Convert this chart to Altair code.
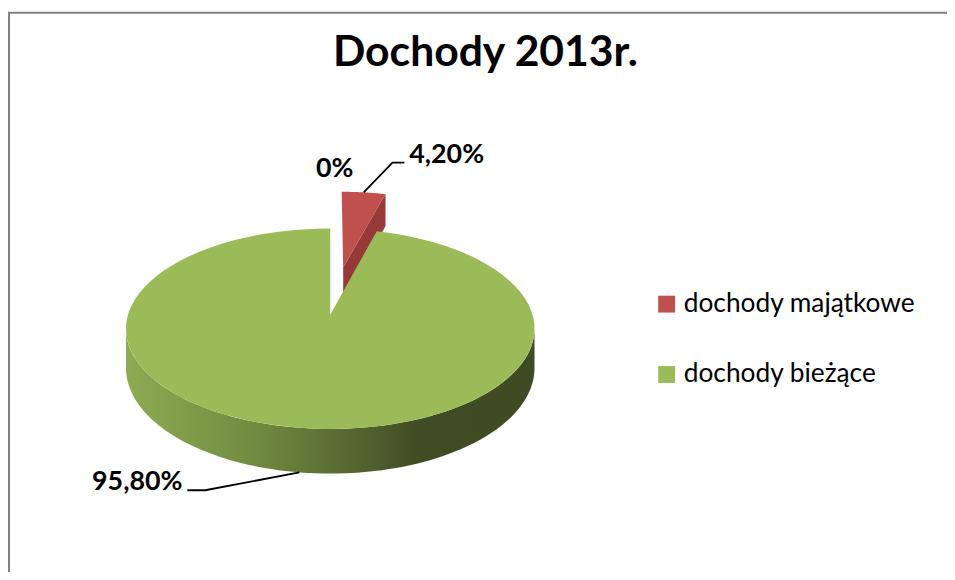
import altair as alt
import pandas as pd

# ---- data ----
CATEGORIES = ["pozostałe", "dochody majątkowe", "dochody bieżące"]
SHARES = [0.0, 4.2, 95.8]
LABELS = ["0%", "4,20%", "95,80%"]
LEGEND_CATS = ["dochody majątkowe", "dochody bieżące"]
COLORS = ["#C0504D", "#9BBB59"]
DARK_COLORS = ["#953A38", "#4F6228"]
TITLE = "Dochody 2013r."

df = pd.DataFrame({"category": CATEGORIES, "value": SHARES,
                   "label": LABELS, "idx": list(range(len(CATEGORIES)))})

# ---- layout / geometry constants (pie units: 1 = horizontal radius) ----
W, H, PAD_TOP = 939, 484, 80
U = 204.0                # pixels per pie unit
CX, CY = 325.0, 227.0    # pie centre (apex) inside the view, px
TILT = 99.1 / U          # vertical squash of the top face
DEPTH = 38.8 / U         # thickness of the pie
K = 0.139                # perspective strength
N = 90
EXPLODE = "(datum.category === 'dochody majątkowe' ? 0.52 : 0)"

XS = alt.Scale(domain=[-CX / U, (W - CX) / U], nice=False, zero=False)
YS = alt.Scale(domain=[-(H - CY) / U, CY / U], nice=False, zero=False)


def proj(chart, X, Z, bottom="0"):
    """project plane point (X, Z) (+ optional depth) with perspective"""
    return (chart.transform_calculate(X_=X)
            .transform_calculate(Z_=Z)
            .transform_calculate(s_=f"1/(1 + {K}*datum.Z_)")
            .transform_calculate(px="datum.X_*datum.s_")
            .transform_calculate(py=f"{TILT}*datum.Z_*datum.s_ - ({bottom} ? {DEPTH}*datum.s_ : 0)"))


def base():
    return (alt.Chart(df)
            .transform_joinaggregate(total="sum(value)")
            .transform_window(cum="sum(value)", sort=[alt.SortField("idx")], frame=[None, 0])
            .transform_calculate(t0="2*PI*(datum.cum - datum.value)/datum.total")
            .transform_calculate(t1="2*PI*datum.cum/datum.total")
            .transform_calculate(mid="(datum.t0 + datum.t1)/2")
            .transform_calculate(expl=EXPLODE)
            .transform_calculate(ex="datum.expl*sin(datum.mid)")
            .transform_calculate(ez="datum.expl*cos(datum.mid)"))


def enc(ch):
    return ch.encode(x=alt.X("px:Q", scale=XS, axis=None),
                     y=alt.Y("py:Q", scale=YS, axis=None),
                     order=alt.Order("k:Q"),
                     detail="category:N")


# top faces
def top_faces(filt):
    c = (base().transform_filter("datum.value > 0").transform_filter(filt)
         .transform_calculate(k=f"sequence(-1, {N + 1})")
         .transform_flatten(["k"])
         .transform_calculate(t=f"datum.t0 + (datum.t1 - datum.t0) * max(datum.k, 0) / {N}"))
    c = proj(c, "datum.ex + (datum.k < 0 ? 0 : sin(datum.t))",
             "datum.ez + (datum.k < 0 ? 0 : cos(datum.t))").mark_line(strokeWidth=0)
    return enc(c).encode(fill=alt.Fill("category:N", scale=alt.Scale(domain=LEGEND_CATS, range=COLORS), legend=None))


tops_back = top_faces("datum.expl > 0")
tops_front = top_faces("datum.expl == 0")

# visible side band (front part of the rim, between the silhouette points)
side = (base().transform_filter("datum.value > 0")
        .transform_calculate(a=f"max(datum.t0, acos(-{K}))", b=f"min(datum.t1, 2*PI - acos(-{K}))")
        .transform_filter("datum.b > datum.a")
        .transform_calculate(k=f"sequence(0, {2 * N + 2})")
        .transform_flatten(["k"])
        .transform_calculate(u=f"datum.k <= {N} ? datum.k : {2 * N + 1} - datum.k")
        .transform_calculate(t=f"datum.a + (datum.b - datum.a) * datum.u / {N}"))
side = proj(side, "datum.ex + sin(datum.t)", "datum.ez + cos(datum.t)", f"datum.k > {N}").mark_line(
    strokeWidth=0, fill={
        "gradient": "linear", "x1": 0, "y1": 0, "x2": 1, "y2": 0,
        "stops": [{"offset": 0, "color": "#8DAB52"},
                  {"offset": 0.3, "color": "#728D41"},
                  {"offset": 0.5, "color": "#5C6F35"},
                  {"offset": 0.72, "color": "#3F4C24"},
                  {"offset": 1, "color": "#3F4B23"}]})
side = enc(side)

# visible cut face at the end radius of a slice
cut = (base().transform_filter("datum.value > 0")
       .transform_filter("sin(datum.t1) > 0.000001")
       .transform_calculate(k="sequence(0, 4)")
       .transform_flatten(["k"])
       .transform_calculate(rim="(datum.k == 1 || datum.k == 2) ? 1 : 0"))
cut = proj(cut, "datum.ex + datum.rim*sin(datum.t1)", "datum.ez + datum.rim*cos(datum.t1)",
           "datum.k >= 2").mark_line(strokeWidth=0)
cut = enc(cut).encode(fill=alt.Fill("category:N", scale=alt.Scale(domain=LEGEND_CATS, range=DARK_COLORS), legend=None))


# label anchors (outer visible point of each slice at its mid angle)
def anchored():
    c = (base().transform_filter("datum.value > 0")
         .transform_calculate(sgn="sin(datum.mid) > 0 ? 1 : -1"))
    c = proj(c, "datum.ex + sin(datum.mid)", "datum.ez + cos(datum.mid)", "cos(datum.mid) < 0")
    return (c.transform_calculate(ax="datum.px", ay="datum.py")
            .transform_calculate(elx=f"datum.ax + (datum.sgn > 0 ? 29 : -95)/{U}")
            .transform_calculate(ely=f"datum.ay + (datum.sgn > 0 ? 30 : -18)/{U}")
            .transform_calculate(enx=f"datum.elx + (datum.sgn > 0 ? 12 : -18)/{U}"))


leaders = (anchored()
           .transform_calculate(k="sequence(0, 3)")
           .transform_flatten(["k"])
           .transform_calculate(px="datum.k == 0 ? datum.ax : (datum.k == 1 ? datum.elx : datum.enx)")
           .transform_calculate(py="datum.k == 0 ? datum.ay : datum.ely")
           .mark_line(color="black", strokeWidth=1.8))
leaders = enc(leaders)

TXT = dict(font="Lato", fontSize=27, fontWeight="bold", color="black", baseline="alphabetic")
XY = dict(x=alt.X("lx:Q", scale=XS, axis=None), y=alt.Y("ly:Q", scale=YS, axis=None), text="label:N")
lab_r = (anchored().transform_filter("datum.sgn > 0")
         .transform_calculate(lx=f"datum.enx + 5/{U}", ly="datum.ely")
         .mark_text(align="left", **TXT).encode(**XY))
lab_l = (anchored().transform_filter("datum.sgn < 0")
         .transform_calculate(lx=f"datum.enx - 5/{U}", ly="datum.ely")
         .mark_text(align="right", **TXT).encode(**XY))
lab_0 = proj(base().transform_filter("datum.value == 0"),
             "datum.ex + sin(datum.mid)", "datum.ez + cos(datum.mid)")
lab_0 = (lab_0.transform_calculate(lx=f"datum.px + 4.5/{U}", ly=f"datum.py + 52/{U}")
         .mark_text(align="center", **TXT).encode(**XY))

# legend carrier
legend_layer = (alt.Chart(df).transform_filter(alt.FieldOneOfPredicate(field="category", oneOf=LEGEND_CATS))
                .mark_square(opacity=0)
                .encode(color=alt.Color("category:N",
                                        scale=alt.Scale(domain=LEGEND_CATS, range=COLORS),
                                        sort=LEGEND_CATS,
                                        legend=alt.Legend(title=None, orient="none", legendX=651, legendY=203,
                                                          symbolType="square", symbolSize=289, symbolOpacity=1,
                                                          symbolStrokeWidth=0, labelFont="Lato", labelFontSize=26.5,
                                                          labelColor="black", labelOffset=4, rowPadding=44,
                                                          padding=0, labelLimit=400))))

frame = alt.Chart(alt.Data(values=[{"a": 1}]))
frame_top = frame.mark_rule(color="#808080", strokeWidth=2).encode(
    x=alt.value(-2), x2=alt.value(W + 10), y=alt.value(-PAD_TOP + 2.5))
frame_left = frame.mark_rule(color="#808080", strokeWidth=2).encode(
    x=alt.value(1), y=alt.value(-PAD_TOP + 2.5), y2=alt.value(H + 10))

chart = (alt.layer(cut, tops_back, side, tops_front, leaders, lab_r, lab_l, lab_0,
                   legend_layer, frame_top, frame_left)
         .resolve_scale(fill="independent")
         .properties(width=W, height=H,
                     autosize=alt.AutoSizeParams(type="none"),
                     padding={"left": 0, "top": PAD_TOP, "right": 8, "bottom": 0},
                     title=alt.Title(TITLE, font="Lato", fontSize=43, fontWeight="bold",
                                     color="black", anchor="middle", frame="group", dx=12,
                                     offset=-97.5, baseline="alphabetic"))
         .configure(background="white")
         .configure_view(strokeWidth=0, stroke="transparent"))

chart.save("out.html", embed_options={"renderer": "svg", "actions": False})
